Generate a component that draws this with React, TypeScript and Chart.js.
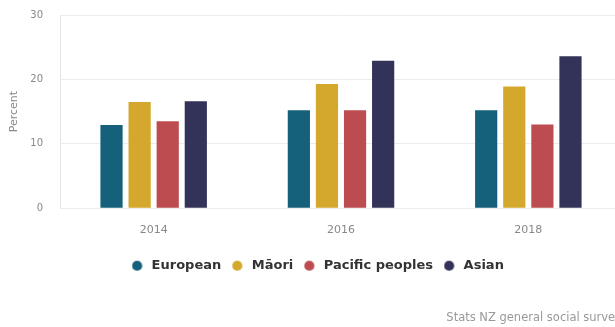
import React, { useEffect, useRef } from "react";
import { Chart, registerables } from "chart.js";

Chart.register(...registerables);

const years = ["2014", "2016", "2018"];
const european = [12.9, 15.2, 15.2];
const maori = [16.5, 19.3, 18.9];
const pacific = [13.5, 15.2, 13.0];
const asian = [16.6, 22.9, 23.6];
const seriesNames = ["European", "Māori", "Pacific peoples", "Asian"];
const seriesColors = ["#15607a", "#d4a82c", "#bc4c50", "#333359"];
const yTicks = [0, 10, 20, 30];
const yTitle = "Percent";
const credit = "Stats NZ general social survey";

const FONT = "'DejaVu Sans', sans-serif";

function dot(color: string) {
  const c = document.createElement("canvas");
  c.width = 14;
  c.height = 12;
  const ctx = c.getContext("2d")!;
  ctx.fillStyle = color;
  ctx.beginPath();
  ctx.arc(5.5, 6, 5.1, 0, Math.PI * 2);
  ctx.fill();
  return c;
}

export default function App() {
  const ref = useRef<HTMLCanvasElement>(null);
  useEffect(() => {
    if (!ref.current) return;
    const values = [european, maori, pacific, asian];
    const dots = seriesColors.map(dot);
    const chart = new Chart(ref.current, {
      type: "bar",
      data: {
        labels: years,
        datasets: seriesNames.map((n, i) => ({
          label: n,
          data: values[i],
          backgroundColor: seriesColors[i],
          borderWidth: 0,
          categoryPercentage: 0.6,
          barPercentage: 0.79,
        })),
      },
      options: {
        animation: false,
        responsive: false,
        maintainAspectRatio: false,
        layout: { padding: { top: 15, right: 4, left: 14, bottom: 2 } },
        plugins: {
          tooltip: { enabled: false },
          legend: {
            position: "bottom",
            labels: {
              usePointStyle: true,
              boxWidth: 13,
              boxHeight: 13,
              padding: 11,
              color: "#333",
              font: { family: FONT, size: 13, weight: "bold" },
              generateLabels: (ch: any) => {
                const items = Chart.defaults.plugins.legend.labels.generateLabels(ch);
                items.forEach((it: any, i: number) => {
                  it.pointStyle = dots[i];
                });
                return items;
              },
            },
          },
          subtitle: {
            display: true,
            text: credit,
            position: "bottom",
            align: "end",
            color: "#999",
            font: { family: FONT, size: 11.5, weight: "normal" },
            padding: { top: 29, bottom: 0 },
          },
        },
        scales: {
          x: {
            grid: { display: false },
            border: { display: false },
            ticks: {
              color: "#888",
              font: { family: FONT, size: 11 },
              padding: 7.5,
            },
            afterFit: (s: any) => {
              s.height = 40;
            },
          },
          y: {
            min: 0,
            max: 30,
            afterBuildTicks: (axis: any) => {
              axis.ticks = yTicks.map((v) => ({ value: v }));
            },
            afterFit: (s: any) => {
              s.width = 46;
              s.paddingTop = 6;
              s.paddingBottom = 6;
            },
            grid: { color: "#ececec", drawTicks: false },
            border: { display: true, color: "#e4e4e4" },
            ticks: {
              color: "#888",
              font: { family: FONT, size: 10 },
              padding: 17,
            },
            title: {
              display: true,
              text: yTitle,
              color: "#888",
              font: { family: FONT, size: 11 },
              padding: { top: -6, bottom: 0 },
            },
          },
        },
      },
    });
    return () => chart.destroy();
  }, []);
  return (
    <div style={{ position: "fixed", left: 0, top: 0, width: 615, height: 327, overflow: "hidden", background: "#fff" }}>
      <canvas ref={ref} width={626} height={327} style={{ display: "block", width: 626, height: 327 }} />
    </div>
  );
}
